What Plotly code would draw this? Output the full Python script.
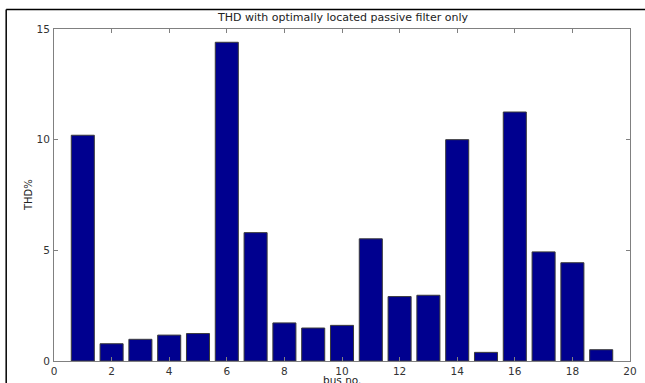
import plotly.graph_objects as go

bus_no = list(range(1, 20))
thd_percent = [10.2, 0.78, 0.98, 1.17, 1.24, 14.4, 5.8, 1.72, 1.49, 1.61,
               5.52, 2.91, 2.97, 10.0, 0.39, 11.25, 4.93, 4.44, 0.51]
x_ticks = list(range(0, 21, 2))
y_ticks = [0, 5, 10, 15]

FONT = "DejaVu Sans, Verdana, sans-serif"

fig = go.Figure()
fig.add_trace(go.Bar(
    x=bus_no, y=thd_percent, width=0.8,
    marker=dict(color="#00008F", line=dict(color="#3a3a3a", width=1)),
    showlegend=False,
))

axis_common = dict(
    showline=True, linecolor="#808080", linewidth=1, mirror="ticks",
    ticks="inside", ticklen=4, tickcolor="#808080", tickwidth=1,
    showgrid=False, zeroline=False, automargin=False,
    tickfont=dict(family=FONT, size=10.5, color="#333333"),
)

fig.update_layout(
    width=645, height=383,
    margin=dict(l=54, r=15, t=29, b=22, autoexpand=False),
    paper_bgcolor="white", plot_bgcolor="white",
    xaxis=dict(range=[0, 20], tickvals=x_ticks, ticklabelstandoff=0, **axis_common),
    yaxis=dict(range=[0, 15], tickvals=y_ticks, ticklabelstandoff=1, **axis_common),
    font=dict(family=FONT, size=10.5, color="#222222"),
    annotations=[
        dict(text="THD with optimally located passive filter only", xref="paper", yref="paper",
             x=0.5, y=1.0, yshift=12, yanchor="middle", showarrow=False,
             font=dict(family=FONT, size=11, color="#222222")),
        dict(text="THD%", xref="paper", yref="paper", x=-0.058, y=0.5, textangle=-90,
             showarrow=False, font=dict(family=FONT, size=10, color="#222222")),
        dict(text="bus no.", xref="paper", yref="paper", x=0.5, y=0, yshift=-19,
             yanchor="middle", showarrow=False,
             font=dict(family=FONT, size=10.5, color="#222222")),
    ],
    shapes=[
        dict(type="line", xref="paper", yref="paper", x0=-0.083, x1=1.03, y0=1.0585, y1=1.0585,
             line=dict(color="black", width=1.5)),
        dict(type="line", xref="paper", yref="paper", x0=-0.083, x1=-0.083, y0=1.0585, y1=-0.07,
             line=dict(color="black", width=1.5)),
    ],
)

fig.write_html("out.html", config={"displayModeBar": False},
               post_script="document.body.style.margin='0';")
